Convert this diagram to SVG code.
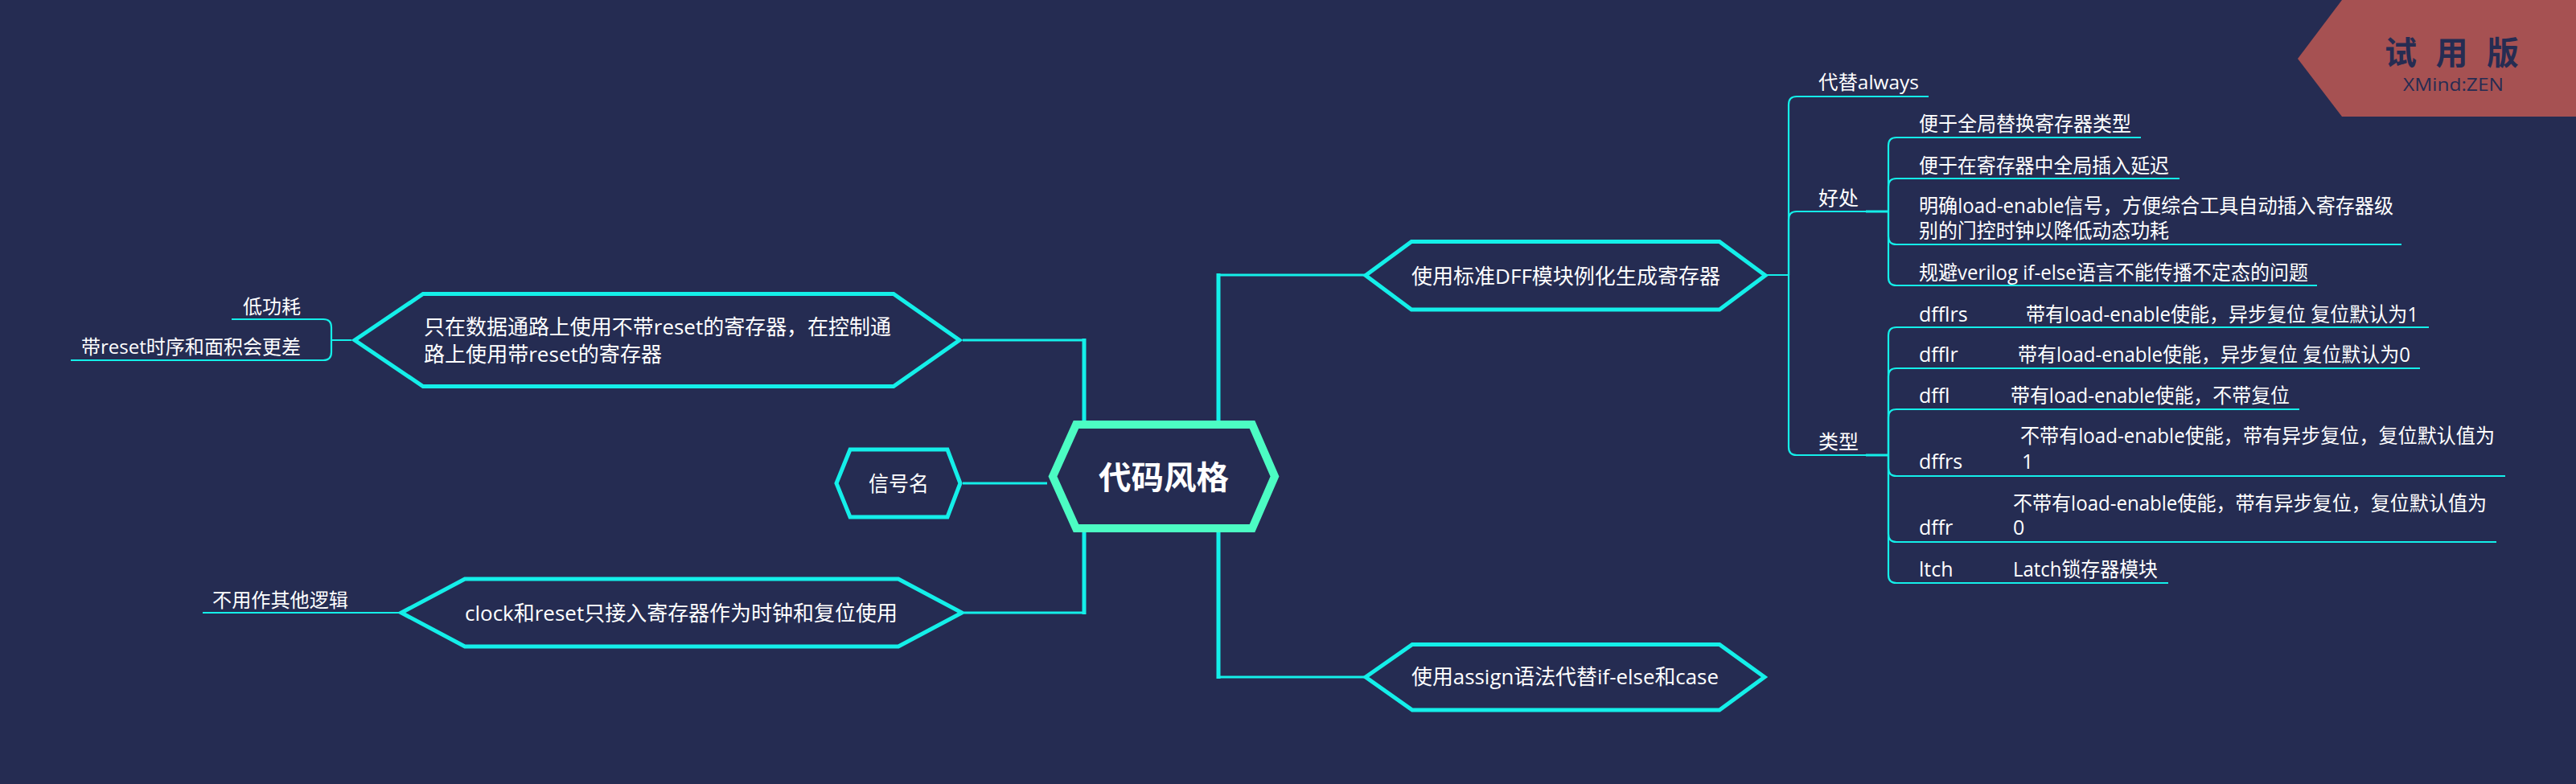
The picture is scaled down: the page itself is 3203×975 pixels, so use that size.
<svg xmlns="http://www.w3.org/2000/svg" width="3203" height="975" viewBox="0 0 3203 975">
<style>
.conn{fill:none;stroke:#14efe9;stroke-linecap:butt;stroke-linejoin:round}
.trunk{stroke-width:5}
.br{stroke-width:3}
.sub{stroke-width:2.2}
.ul{fill:none;stroke:#14efe9;stroke-width:2.2}
.hex{fill:#252c52;stroke:#14efe9;stroke-width:5;stroke-linejoin:miter}
.ctr{fill:#252c52;stroke:#4cfcc3;stroke-width:10;stroke-linejoin:miter}
text{fill:#ffffff;font-family:"Open Sans","Noto Sans CJK SC",sans-serif}
.t1{font-size:26px}
.t2{font-size:24px}
.t3{font-size:25px}
.c{font-size:40px;font-weight:bold;font-family:"Noto Sans CJK SC",sans-serif}
.wm{fill:#262c52}
</style>
<rect x="0" y="0" width="3203" height="975" fill="#252c52"/>

<g id="connectors">
  <!-- trunks from center -->
  <path class="conn trunk" d="M1348 530 V421"/>
  <path class="conn br" d="M1350 423 H1197"/>
  <path class="conn trunk" d="M1515 530 V340"/>
  <path class="conn br" d="M1513 342 H1697"/>
  <path class="conn trunk" d="M1348 655 V764"/>
  <path class="conn br" d="M1350 762 H1199"/>
  <path class="conn trunk" d="M1515 655 V844"/>
  <path class="conn br" d="M1513 842 H1697"/>
  <path class="conn br" d="M1197 601 H1302"/>
  <!-- left subs -->
  <path class="conn sub" d="M437 423 H412 V407 Q412 397 402 397 H380"/>
  <path class="conn sub" d="M437 423 H412 V438 Q412 448 402 448 H380"/>
  <path class="conn sub" d="M496 762 H440"/>
  <!-- DFF children -->
  <path class="conn sub" d="M2197 342 H2224 V130 Q2224 120 2234 120 H2254"/>
  <path class="conn sub" d="M2197 342 H2224 V273 Q2224 263 2234 263 H2254"/>
  <path class="conn sub" d="M2197 342 H2224 V556 Q2224 566 2234 566 H2254"/>
  <!-- 好处 children -->
  <path class="conn br" d="M2320 263 H2348"/>
  <path class="conn sub" d="M2348 263 V181 Q2348 171 2358 171 H2378"/>
  <path class="conn sub" d="M2348 263 V232 Q2348 222 2358 222 H2378"/>
  <path class="conn sub" d="M2348 263 V294 Q2348 304 2358 304 H2378"/>
  <path class="conn sub" d="M2348 263 V345 Q2348 355 2358 355 H2378"/>
  <!-- 类型 children -->
  <path class="conn br" d="M2320 566 H2348"/>
  <path class="conn sub" d="M2348 566 V417 Q2348 407 2358 407 H2378"/>
  <path class="conn sub" d="M2348 566 V468 Q2348 458 2358 458 H2378"/>
  <path class="conn sub" d="M2348 566 V519 Q2348 509 2358 509 H2378"/>
  <path class="conn sub" d="M2348 566 V582 Q2348 592 2358 592 H2378"/>
  <path class="conn sub" d="M2348 566 V664 Q2348 674 2358 674 H2378"/>
  <path class="conn sub" d="M2348 566 V715 Q2348 725 2358 725 H2378"/>
</g>

<g id="node-center">
  <polygon class="ctr" points="1309,592.5 1338,528 1557,528 1585,592.5 1557,657 1338,657"/>
  <text class="c" x="1366" y="608" textLength="162" lengthAdjust="spacingAndGlyphs">代码风格</text>
</g>

<g id="node-dff">
  <polygon class="hex" points="1698,342.5 1755,300.5 2138,300.5 2195,342.5 2138,385 1755,385"/>
  <text class="t1" x="1755" y="353" textLength="384" lengthAdjust="spacingAndGlyphs">使用标准DFF模块例化生成寄存器</text>
</g>

<g id="node-assign">
  <polygon class="hex" points="1698,842 1756,801.5 2138,801.5 2194,842 2138,883 1756,883"/>
  <text class="t1" x="1755" y="851" textLength="382" lengthAdjust="spacingAndGlyphs">使用assign语法代替if-else和case</text>
</g>

<g id="node-reset">
  <polygon class="hex" points="441,423 526,365.5 1111,365.5 1193,423 1111,480.5 526,480.5"/>
  <text class="t1" x="527" y="416" textLength="581" lengthAdjust="spacingAndGlyphs">只在数据通路上使用不带reset的寄存器，在控制通</text>
  <text class="t1" x="527" y="450" textLength="296" lengthAdjust="spacingAndGlyphs">路上使用带reset的寄存器</text>
</g>

<g id="node-clock">
  <polygon class="hex" points="499,762 578,720 1117,720 1196,762 1117,804 578,804"/>
  <text class="t1" x="578" y="772" textLength="538" lengthAdjust="spacingAndGlyphs">clock和reset只接入寄存器作为时钟和复位使用</text>
</g>

<g id="node-signal">
  <polygon class="hex" points="1040,601 1057,559 1178,559 1194,601 1178,643 1057,643"/>
  <text class="t1" x="1080" y="611" textLength="75" lengthAdjust="spacingAndGlyphs">信号名</text>
</g>

<g id="node-lowpower">
  <line class="ul" x1="288" y1="397" x2="381" y2="397"/>
  <text class="t2" x="302" y="390" textLength="72" lengthAdjust="spacingAndGlyphs">低功耗</text>
</g>
<g id="node-worse">
  <line class="ul" x1="88" y1="448" x2="381" y2="448"/>
  <text class="t2" x="101" y="440" textLength="273" lengthAdjust="spacingAndGlyphs">带reset时序和面积会更差</text>
</g>
<g id="node-nologic">
  <line class="ul" x1="252" y1="762" x2="441" y2="762"/>
  <text class="t2" x="264" y="755" textLength="169" lengthAdjust="spacingAndGlyphs">不用作其他逻辑</text>
</g>

<g id="node-always">
  <line class="ul" x1="2253" y1="120" x2="2398" y2="120"/>
  <text class="t2" x="2261" y="111" textLength="125" lengthAdjust="spacingAndGlyphs">代替always</text>
</g>
<g id="node-benefit">
  <line class="ul" x1="2253" y1="263" x2="2321" y2="263"/>
  <text class="t2" x="2261" y="255" textLength="50" lengthAdjust="spacingAndGlyphs">好处</text>
</g>
<g id="node-type">
  <line class="ul" x1="2253" y1="566" x2="2321" y2="566"/>
  <text class="t2" x="2261" y="558" textLength="50" lengthAdjust="spacingAndGlyphs">类型</text>
</g>

<g id="node-b1">
  <line class="ul" x1="2377" y1="171" x2="2662" y2="171"/>
  <text class="t3" x="2386" y="163" textLength="264" lengthAdjust="spacingAndGlyphs">便于全局替换寄存器类型</text>
</g>
<g id="node-b2">
  <line class="ul" x1="2377" y1="222" x2="2710" y2="222"/>
  <text class="t3" x="2386" y="215" textLength="311" lengthAdjust="spacingAndGlyphs">便于在寄存器中全局插入延迟</text>
</g>
<g id="node-b3">
  <line class="ul" x1="2377" y1="304" x2="2986" y2="304"/>
  <text class="t3" x="2386" y="265" textLength="590" lengthAdjust="spacingAndGlyphs">明确load-enable信号，方便综合工具自动插入寄存器级</text>
  <text class="t3" x="2386" y="296" textLength="311" lengthAdjust="spacingAndGlyphs">别的门控时钟以降低动态功耗</text>
</g>
<g id="node-b4">
  <line class="ul" x1="2377" y1="355" x2="2881" y2="355"/>
  <text class="t3" x="2386" y="348" textLength="484" lengthAdjust="spacingAndGlyphs">规避verilog if-else语言不能传播不定态的问题</text>
</g>

<g id="node-dfflrs">
  <line class="ul" x1="2377" y1="407" x2="3020" y2="407"/>
  <text class="t3" x="2386" y="400">dfflrs</text>
  <text class="t3" x="2519" y="400" textLength="488" lengthAdjust="spacingAndGlyphs">带有load-enable使能，异步复位 复位默认为1</text>
</g>
<g id="node-dfflr">
  <line class="ul" x1="2377" y1="458" x2="3009" y2="458"/>
  <text class="t3" x="2386" y="450">dfflr</text>
  <text class="t3" x="2509" y="450" textLength="488" lengthAdjust="spacingAndGlyphs">带有load-enable使能，异步复位 复位默认为0</text>
</g>
<g id="node-dffl">
  <line class="ul" x1="2377" y1="509" x2="2859" y2="509"/>
  <text class="t3" x="2386" y="501">dffl</text>
  <text class="t3" x="2500" y="501" textLength="347" lengthAdjust="spacingAndGlyphs">带有load-enable使能，不带复位</text>
</g>
<g id="node-dffrs">
  <line class="ul" x1="2377" y1="592" x2="3115" y2="592"/>
  <text class="t3" x="2512" y="551" textLength="590" lengthAdjust="spacingAndGlyphs">不带有load-enable使能，带有异步复位，复位默认值为</text>
  <text class="t3" x="2386" y="583">dffrs</text>
  <text class="t3" x="2514" y="583">1</text>
</g>
<g id="node-dffr">
  <line class="ul" x1="2377" y1="674" x2="3104" y2="674"/>
  <text class="t3" x="2503" y="635" textLength="589" lengthAdjust="spacingAndGlyphs">不带有load-enable使能，带有异步复位，复位默认值为</text>
  <text class="t3" x="2386" y="665">dffr</text>
  <text class="t3" x="2503" y="665">0</text>
</g>
<g id="node-ltch">
  <line class="ul" x1="2377" y1="725" x2="2696" y2="725"/>
  <text class="t3" x="2386" y="717">ltch</text>
  <text class="t3" x="2503" y="717" textLength="180" lengthAdjust="spacingAndGlyphs">Latch锁存器模块</text>
</g>

<g id="watermark">
  <polygon points="2912,0 3203,0 3203,145 2912,145 2857,73" fill="#a65152"/>
  <text class="wm" x="2965" y="80" style="font-size:40px;font-weight:bold;font-family:'Noto Sans CJK SC',sans-serif" textLength="167" lengthAdjust="spacing">试 用 版</text>
  <text class="wm" x="2988" y="113" style="font-size:22px;font-family:'Open Sans',sans-serif" textLength="125" lengthAdjust="spacingAndGlyphs">XMind:ZEN</text>
</g>
</svg>
